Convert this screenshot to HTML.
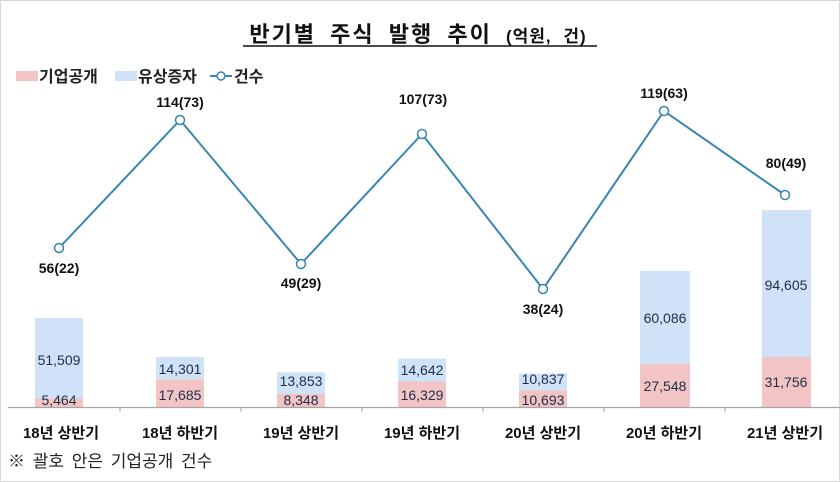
<!DOCTYPE html>
<html><head><meta charset="utf-8"><style>
html,body{margin:0;padding:0;background:#fff}
svg{display:block}
text{font-family:"Liberation Sans","Noto Sans CJK KR","NanumGothic",sans-serif}
</style></head><body>
<svg width="840" height="482" viewBox="0 0 840 482" xmlns="http://www.w3.org/2000/svg">
<rect x="0.5" y="0.5" width="839" height="481" fill="#fff" stroke="#d8d8d8"/>
<text x="418" y="42" text-anchor="middle" font-size="22" font-weight="bold" fill="#111" letter-spacing="2" word-spacing="6">반기별 주식 발행 추이 <tspan font-size="17" letter-spacing="1">(억원, 건)</tspan></text>
<line x1="243" y1="46" x2="597" y2="46" stroke="#111" stroke-width="1.5"/>
<!-- legend -->
<rect x="16" y="71" width="22" height="10" fill="#f2c4c4"/>
<text x="39" y="82" font-size="16" fill="#222" font-weight="bold">기업공개</text>
<rect x="115" y="71" width="22" height="10" fill="#cfe2f7"/>
<text x="138" y="82" font-size="16" fill="#222" font-weight="bold">유상증자</text>
<line x1="210" y1="76" x2="232" y2="76" stroke="#3a86b0" stroke-width="2"/>
<circle cx="221" cy="76" r="4" fill="#fff" stroke="#3a86b0" stroke-width="1.5"/>
<text x="234" y="82" font-size="16" fill="#222" font-weight="bold">건수</text>
<!-- bars -->
<g>
<rect x="35" y="398.5" width="48" height="8.5" fill="#f2c4c4"/><rect x="35" y="318" width="48" height="80.5" fill="#cfe2f7"/>
<rect x="156" y="379.4" width="48" height="27.6" fill="#f2c4c4"/><rect x="156" y="357" width="48" height="22.4" fill="#cfe2f7"/>
<rect x="277" y="394" width="48" height="13" fill="#f2c4c4"/><rect x="277" y="372.4" width="48" height="21.6" fill="#cfe2f7"/>
<rect x="398" y="381.5" width="48" height="25.5" fill="#f2c4c4"/><rect x="398" y="358.7" width="48" height="22.8" fill="#cfe2f7"/>
<rect x="519" y="390.3" width="48" height="16.7" fill="#f2c4c4"/><rect x="519" y="373.4" width="48" height="16.9" fill="#cfe2f7"/>
<rect x="640" y="364" width="50" height="43" fill="#f2c4c4"/><rect x="640" y="271" width="50" height="93" fill="#cfe2f7"/>
<rect x="762" y="357" width="49" height="50" fill="#f2c4c4"/><rect x="762" y="210" width="49" height="147" fill="#cfe2f7"/>
</g>
<g font-size="14" fill="#1f2d4a" text-anchor="middle">
<text x="59" y="405">5,464</text><text x="59" y="365">51,509</text>
<text x="180" y="400">17,685</text><text x="180" y="374">14,301</text>
<text x="301" y="405">8,348</text><text x="301" y="386">13,853</text>
<text x="422" y="400">16,329</text><text x="422" y="375">14,642</text>
<text x="543" y="405">10,693</text><text x="543" y="384">10,837</text>
<text x="665" y="391">27,548</text><text x="665" y="323">60,086</text>
<text x="786" y="387">31,756</text><text x="786" y="290">94,605</text>
</g>
<!-- axis -->
<line x1="8" y1="407.5" x2="840" y2="407.5" stroke="#a6a6a6" stroke-width="1.2"/>
<g stroke="#a6a6a6" stroke-width="1">
<line x1="120" y1="407" x2="120" y2="412"/><line x1="241" y1="407" x2="241" y2="412"/><line x1="362" y1="407" x2="362" y2="412"/><line x1="483" y1="407" x2="483" y2="412"/><line x1="604" y1="407" x2="604" y2="412"/><line x1="725" y1="407" x2="725" y2="412"/>
</g>
<g font-size="15" font-weight="bold" fill="#111" text-anchor="middle">
<text x="61" y="438">18년 상반기</text><text x="180" y="438">18년 하반기</text><text x="301" y="438">19년 상반기</text><text x="422" y="438">19년 하반기</text><text x="543" y="438">20년 상반기</text><text x="664" y="438">20년 하반기</text><text x="785" y="438">21년 상반기</text>
</g>
<text x="8" y="467" font-size="17" fill="#222" word-spacing="3">※ 괄호 안은 기업공개 건수</text>
<!-- line -->
<polyline points="59,248 180,120 301,264 422,134 543,289 664,111 785,195" fill="none" stroke="#3a86b0" stroke-width="2"/>
<g fill="#fff" stroke="#3a86b0" stroke-width="1.5">
<circle cx="59" cy="248" r="4.5"/><circle cx="180" cy="120" r="4.5"/><circle cx="301" cy="264" r="4.5"/><circle cx="422" cy="134" r="4.5"/><circle cx="543" cy="289" r="4.5"/><circle cx="664" cy="111" r="4.5"/><circle cx="785" cy="195" r="4.5"/>
</g>
<g font-size="14" font-weight="bold" fill="#111" text-anchor="middle">
<text x="59" y="273">56(22)</text><text x="180" y="107">114(73)</text><text x="301" y="288">49(29)</text><text x="423" y="104">107(73)</text><text x="543" y="314">38(24)</text><text x="664" y="98">119(63)</text><text x="786" y="168">80(49)</text>
</g>
</svg>
</body></html>
